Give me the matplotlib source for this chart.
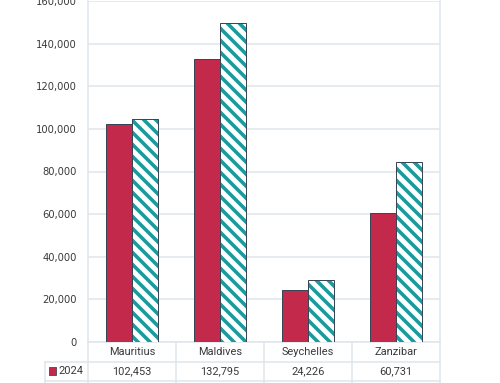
import matplotlib.pyplot as plt
import numpy as np

# values (second series is only seen as bars, estimated)
places = ["Mauritius", "Maldives", "Seychelles", "Zanzibar"]
vals_2024 = [102453, 132795, 24226, 60731]
vals_other = [104700, 149500, 29300, 84300]
yticks = [0, 20000, 40000, 60000, 80000, 100000, 120000, 140000, 160000]

red = "#c2294b"
teal = "#1b9a9b"
edge = "#3a4656"
grid = "#dfe5ec"
txt = "#3a3a3a"

plt.rcParams['hatch.linewidth'] = 3.6

fig = plt.figure(figsize=(500 / 72, 383 / 72), dpi=72)
ax = fig.add_axes([88 / 500, 41 / 383, 352 / 500, 341 / 383])

x = np.arange(len(places))
w = 0.3
ax.bar(x - w / 2, vals_2024, w, color=red, edgecolor=edge, linewidth=1, zorder=3)
ax.bar(x + w / 2, vals_other, w, color="white", edgecolor=teal, hatch="\\\\",
       linewidth=0, zorder=3)
ax.bar(x + w / 2, vals_other, w, fill=False, edgecolor=edge, linewidth=1, zorder=4)

ax.set_xlim(-0.5, len(places) - 0.5)
ax.set_ylim(0, 160000)
ax.set_yticks(yticks)
ax.set_yticklabels([f"{v:,}" for v in yticks], fontsize=10, color=txt,
                   family="DejaVu Sans")
ax.tick_params(axis="y", length=0, pad=11)
ax.set_xticks([])
ax.grid(axis="y", color=grid, linewidth=1.5, zorder=0)
for s in ["top", "bottom"]:
    ax.spines[s].set_visible(False)
for s in ["left", "right"]:
    ax.spines[s].set_color(grid)
    ax.spines[s].set_linewidth(1.5)

# data table below the plot
tr = ax.get_xaxis_transform()
rh = 19.5 / 341
left = -0.5 - 43 / 88
right = len(places) - 0.5
lk = dict(color=grid, linewidth=1.5, transform=tr, clip_on=False)
ax.plot([-0.5, right], [0, 0], **lk)
ax.plot([left, right], [-rh, -rh], **lk)
ax.plot([left, right], [-2 * rh, -2 * rh], **lk)
ax.plot([left, right], [-3 * rh, -3 * rh], **lk)
for b in np.arange(len(places) + 1) - 0.5:
    ax.plot([b, b], [0, -3 * rh], **lk)
ax.plot([left, left], [-rh, -3 * rh], **lk)

tk = dict(transform=tr, ha="center", va="center", fontsize=11, color=txt,
          family="Roboto", clip_on=False)
for i, p in enumerate(places):
    ax.text(i, -0.5 * rh, p, **tk)
    ax.text(i, -1.5 * rh, f"{vals_2024[i]:,}", **tk)

ax.add_patch(plt.Rectangle((left + 4 / 88, -1.5 * rh - 4 / 341), 7 / 88, 8 / 341,
                           facecolor=red, edgecolor=edge, linewidth=0.8,
                           transform=tr, clip_on=False))
ax.text(left + 13 / 88, -1.5 * rh, "2024", transform=tr, ha="left", va="center",
        fontsize=11, color=txt, family="Roboto", clip_on=False)

fig.savefig("out.png", dpi=72)
